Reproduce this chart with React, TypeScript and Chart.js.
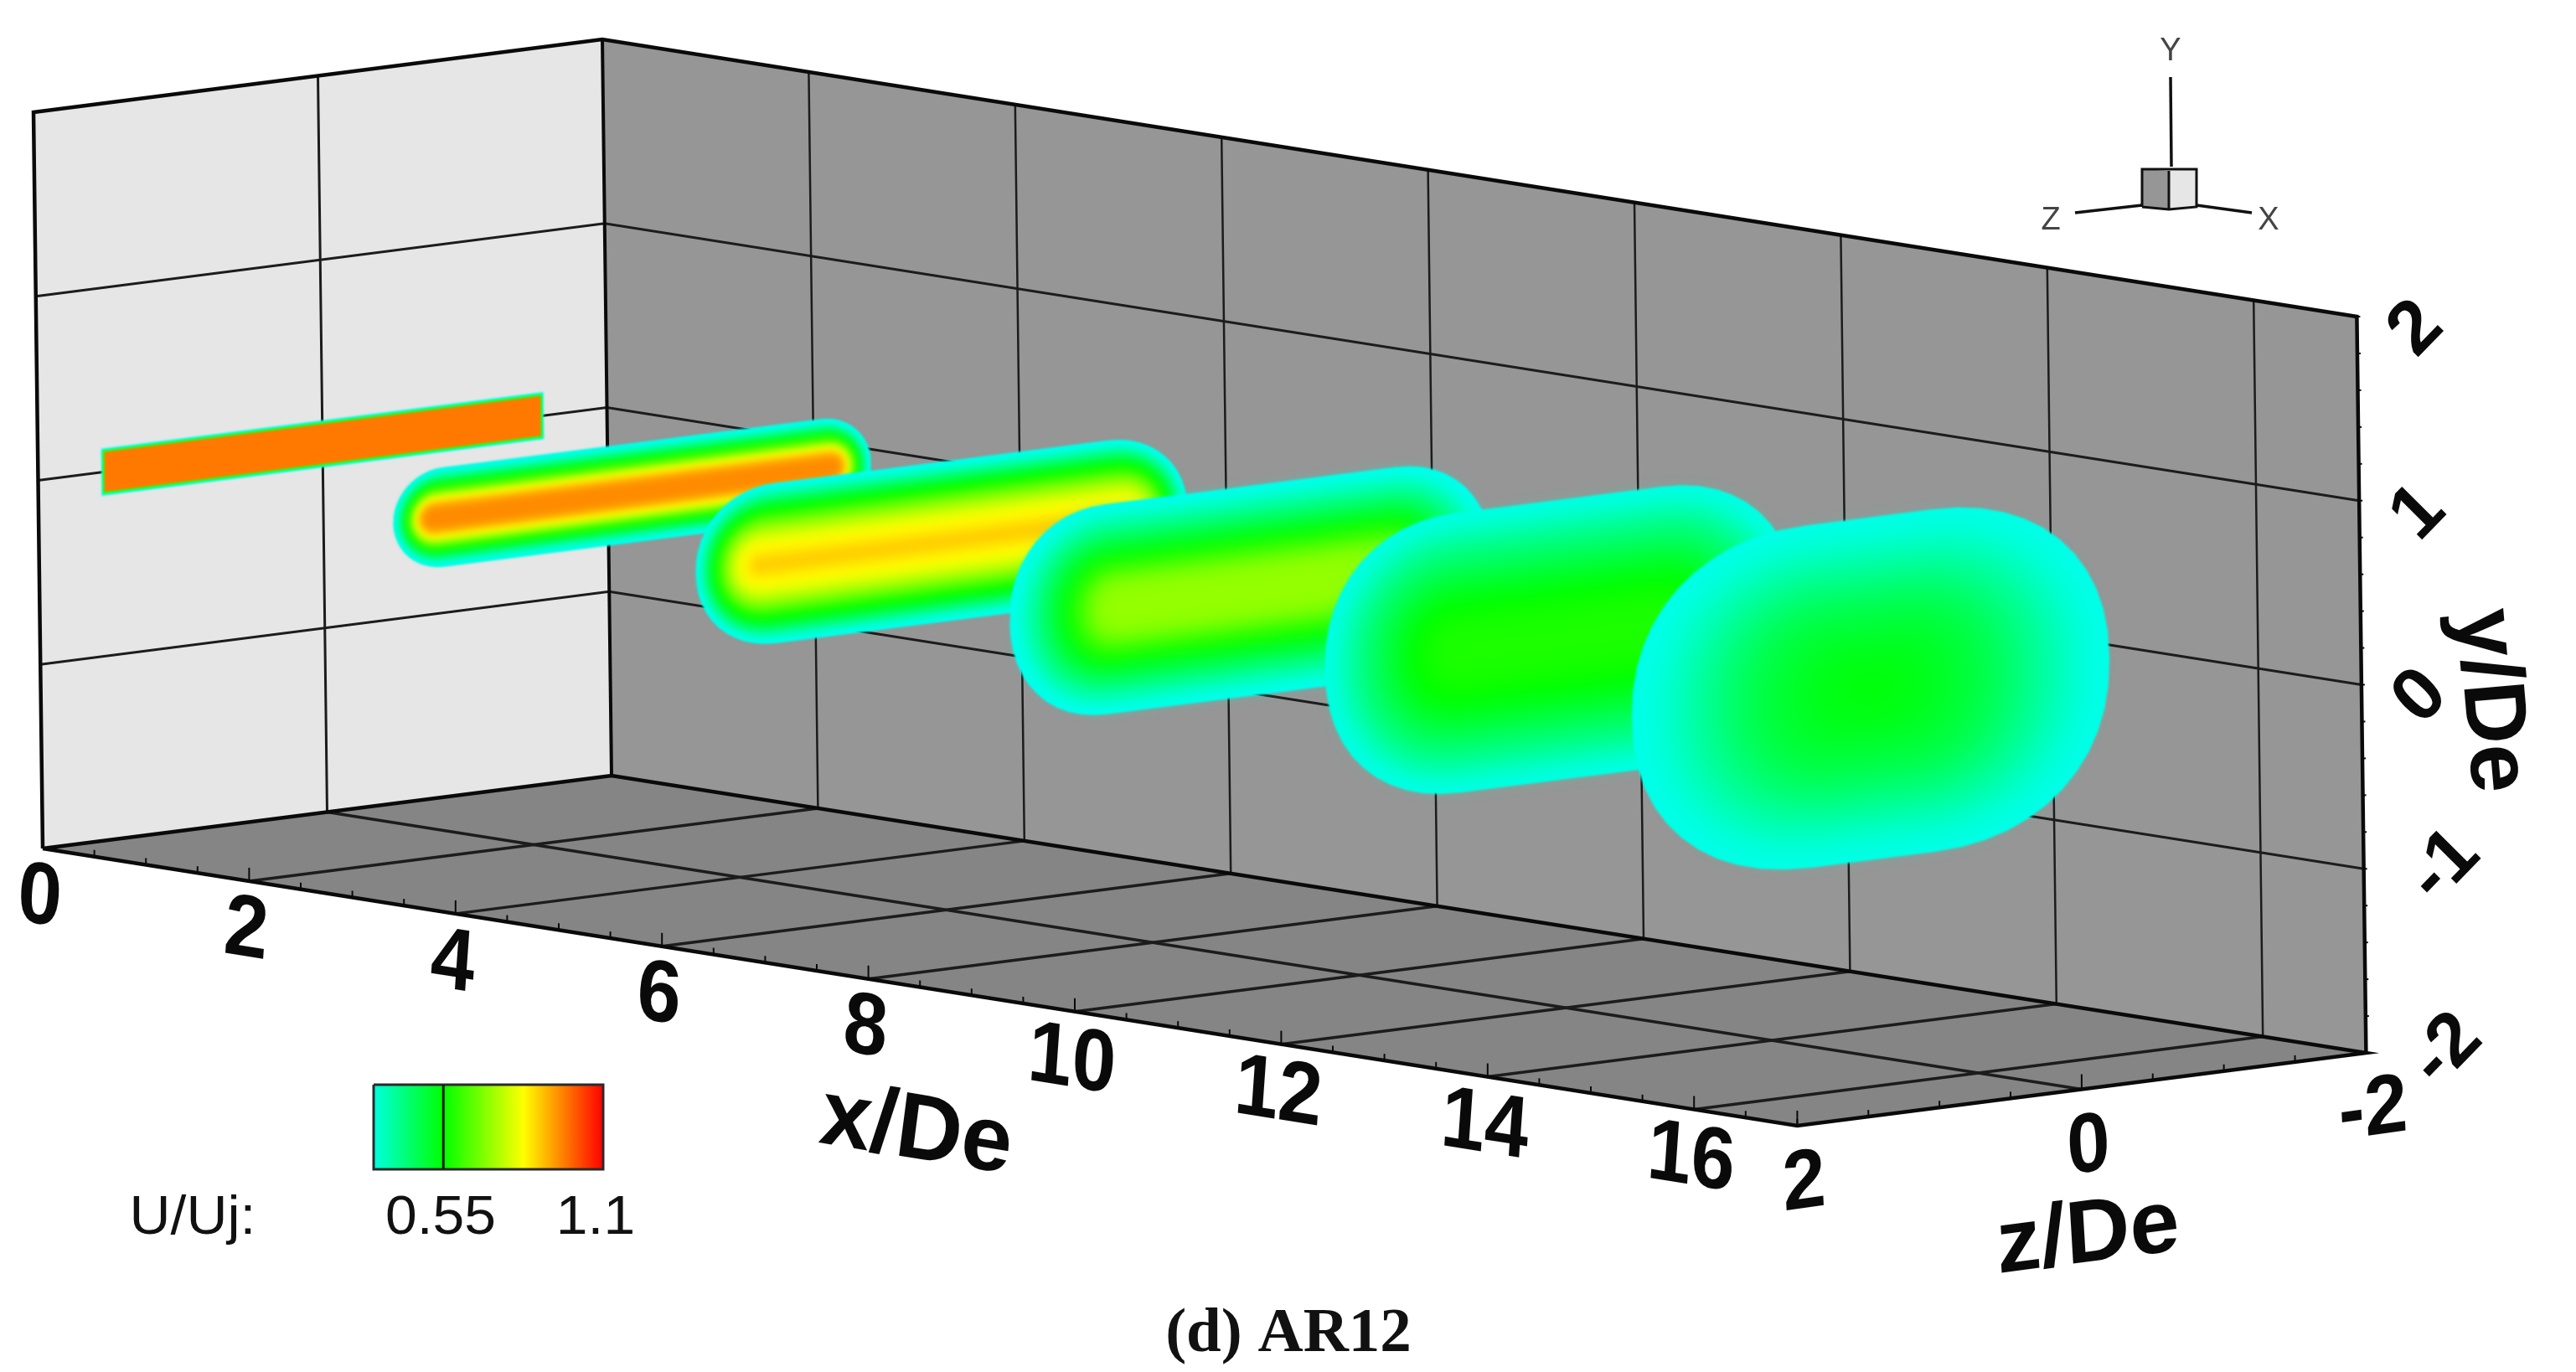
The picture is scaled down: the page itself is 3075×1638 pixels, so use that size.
import { useEffect, useRef } from "react";
import { Chart, registerables } from "chart.js";

const W = 3075;
const H = 1638;

// axis ticks
const xTicks = [0, 2, 4, 6, 8, 10, 12, 14, 16];
const yTicks = [2, 1, 0, -1, -2];
const zTicks = [2, 0, -2];
const xMax = 17;

// cross sections: station, then half width (z), half height (y) and U/Uj of each contour ring
const stations = [0, 3, 6, 9, 12, 15];
const ringZ = [
  [1.555, 1.545, 1.535],
  [1.68, 1.65, 1.62, 1.59, 1.56, 1.53, 1.5, 1.47],
  [1.73, 1.69, 1.65, 1.61, 1.57, 1.53, 1.49, 1.45, 1.41, 1.37, 1.33],
  [1.7, 1.63, 1.56, 1.49, 1.42, 1.35, 1.28, 1.21, 1.14, 1.07],
  [1.66, 1.56, 1.46, 1.36, 1.26, 1.16, 1.06, 0.96, 0.86],
  [1.68, 1.5, 1.33, 1.16, 0.99, 0.82, 0.65, 0.48, 0.31, 0.15],
];
const ringY = [
  [0.128, 0.118, 0.108],
  [0.27, 0.24, 0.21, 0.18, 0.15, 0.12, 0.09, 0.06],
  [0.435, 0.395, 0.355, 0.315, 0.275, 0.235, 0.195, 0.155, 0.115, 0.075, 0.035],
  [0.57, 0.52, 0.47, 0.42, 0.37, 0.32, 0.27, 0.22, 0.17, 0.12],
  [0.76, 0.68, 0.6, 0.52, 0.44, 0.36, 0.28, 0.2, 0.12],
  [0.93, 0.83, 0.73, 0.63, 0.53, 0.43, 0.33, 0.23, 0.15, 0.08],
];
const ringU = [
  [0.3, 0.6, 0.97],
  [0.29, 0.38, 0.5, 0.58, 0.7, 0.82, 0.9, 0.95],
  [0.29, 0.38, 0.47, 0.55, 0.62, 0.69, 0.75, 0.8, 0.83, 0.85, 0.88],
  [0.29, 0.33, 0.38, 0.43, 0.48, 0.53, 0.58, 0.63, 0.68, 0.71],
  [0.3, 0.35, 0.4, 0.44, 0.48, 0.52, 0.55, 0.57, 0.58],
  [0.3, 0.33, 0.37, 0.41, 0.45, 0.48, 0.5, 0.52, 0.53, 0.54],
];
// how far the rounded corners reach along z, as a share of the ring half height
const cornerZ = [0, 1.3, 1.3, 1.2, 1.25, 1.35];
// squareness of those corners, 2 is a plain ellipse
const cornerPower = [2, 2, 2.1, 2.15, 2.2, 2.2];
const ringBlur = [1, 4, 6, 10, 14, 16];

// colour bar
const legendStops = [0.31, 0.55, 0.825, 1.1];
const legendLabels = ["0.55", "1.1"];

// maps x/De, y/De, z/De to the picture
function project(x: number, y: number, z: number) {
  return {
    x: 730 + 123.2 * x - 169.75 * (z + 2) - 2.75 * (y + 2),
    y: 926 + 19.47 * x + 21.75 * (z + 2) - 219.75 * (y + 2),
  };
}

function colormap(u: number) {
  if (u <= 0.275) return "rgb(0,255,255)";
  if (u <= 0.55) return `rgb(0,255,${Math.round(255 * (1 - (u - 0.275) / 0.275))})`;
  if (u <= 0.825) return `rgb(${Math.round((255 * (u - 0.55)) / 0.275)},255,0)`;
  return `rgb(255,${Math.round(255 * (1 - (u - 0.825) / 0.275))},0)`;
}

const path = (data: { x: number; y: number }[], color: string, width: number) => ({
  data,
  showLine: true,
  fill: false,
  borderColor: color,
  borderWidth: width,
  pointRadius: 0,
  tension: 0,
});

const shape = (data: { x: number; y: number }[], color: any, blur = 0) => ({
  data,
  showLine: true,
  fill: "shape",
  backgroundColor: color,
  borderColor: "rgba(0,0,0,0)",
  borderWidth: 0,
  pointRadius: 0,
  tension: 0,
  blur,
});

// rounded outline of one contour ring in the plane x = station
function ringOutline(station: number, a: number, b: number, corner: number, power: number) {
  const rz = Math.min(a, b * corner);
  const ry = corner > 0 ? b : 0;
  const pts = [];
  const corners = [
    [a - rz, b - ry, 0],
    [-(a - rz), b - ry, 90],
    [-(a - rz), -(b - ry), 180],
    [a - rz, -(b - ry), 270],
  ];
  const bend = (v: number) => Math.sign(v) * Math.pow(Math.abs(v), 2 / power);
  for (const [cz, cy, start] of corners) {
    for (let k = 0; k <= 12; k++) {
      const t = ((start + k * 7.5) * Math.PI) / 180;
      pts.push(project(station, cy + ry * bend(Math.sin(t)), cz + rz * bend(Math.cos(t))));
    }
  }
  pts.push(pts[0]);
  return pts;
}

function buildDatasets(ctx: CanvasRenderingContext2D) {
  const sets: any[] = [];
  const grid = "#1c1c1c";
  const edge = "#0a0a0a";

  // walls and floor
  sets.push(shape([project(0, -2, -2), project(0, 2, -2), project(0, 2, 2), project(0, -2, 2), project(0, -2, -2)], "#e6e6e6"));
  sets.push(shape([project(0, -2, -2), project(0, 2, -2), project(xMax, 2, -2), project(xMax, -2, -2), project(0, -2, -2)], "#969696"));
  sets.push(shape([project(0, -2, -2), project(xMax, -2, -2), project(xMax, -2, 2), project(0, -2, 2), project(0, -2, -2)], "#858585"));

  // grid lines
  for (const y of yTicks.slice(1, 4)) {
    sets.push(path([project(0, y, 2), project(0, y, -2), project(xMax, y, -2)], grid, 3));
  }
  sets.push(path([project(0, -2, 0), project(0, 2, 0)], grid, 3));
  sets.push(path([project(0, -2, 0), project(xMax, -2, 0)], grid, 3.5));
  for (const x of xTicks.slice(1)) {
    sets.push(path([project(x, 2, -2), project(x, -2, -2)], grid, 2.5));
    sets.push(path([project(x, -2, -2), project(x, -2, 2)], grid, 3.5));
  }

  // box edges
  sets.push(path([project(0, -2, 2), project(0, 2, 2), project(0, 2, -2), project(xMax, 2, -2), project(xMax, -2, -2)], edge, 4.5));
  sets.push(path([project(0, 2, -2), project(0, -2, -2)], edge, 4));
  sets.push(path([project(0, -2, 2), project(0, -2, -2), project(xMax, -2, -2), project(xMax, -2, 2), project(0, -2, 2)], edge, 4.5));

  // tick marks, drawn straight up from the front edges
  const tickUp = (p: { x: number; y: number }, len: number) => [p, { x: p.x, y: p.y - len }];
  for (let x = 0; x <= xMax; x += 0.5) {
    sets.push(path(tickUp(project(x, -2, 2), x % 2 === 0 ? 16 : 8), edge, 2));
  }
  for (let z = -2; z <= 2; z += 0.5) {
    sets.push(path(tickUp(project(xMax, -2, z), z % 2 === 0 ? 18 : 8), edge, 2));
  }
  for (let y = -2; y <= 2; y += 0.2) {
    const p = project(xMax, y, -2);
    sets.push(path([p, { x: p.x + 4, y: p.y }], edge, 2));
  }

  // jet cross sections, far to near
  stations.forEach((station, i) => {
    ringZ[i].forEach((a, j) => {
      const outline = ringOutline(station, a, ringY[i][j], cornerZ[i], cornerPower[i]);
      sets.push(shape(outline, colormap(ringU[i][j]), j === 0 ? 1 : ringBlur[i]));
    });
  });

  // colour bar
  const barX = (u: number) => 446 + ((u - legendStops[0]) / (legendStops[3] - legendStops[0])) * 274;
  const barTop = 1295;
  const barBottom = 1396;
  const gradient = ctx.createLinearGradient(barX(legendStops[0]), 0, barX(legendStops[3]), 0);
  legendStops.forEach((u) => {
    gradient.addColorStop((u - legendStops[0]) / (legendStops[3] - legendStops[0]), colormap(u));
  });
  const bar = [
    { x: 446, y: barTop },
    { x: 720, y: barTop },
    { x: 720, y: barBottom },
    { x: 446, y: barBottom },
    { x: 446, y: barTop },
  ];
  sets.push(shape(bar, gradient));
  sets.push(path(bar, "#2a2a2a", 3));
  sets.push(path([{ x: barX(0.55), y: barTop }, { x: barX(0.55), y: barBottom }], "#1a1a1a", 3));

  // orientation triad
  sets.push(shape([{ x: 2557, y: 202 }, { x: 2589, y: 204 }, { x: 2589, y: 250 }, { x: 2557, y: 247 }, { x: 2557, y: 202 }], "#969696"));
  sets.push(shape([{ x: 2589, y: 204 }, { x: 2622, y: 202 }, { x: 2622, y: 247 }, { x: 2589, y: 250 }, { x: 2589, y: 204 }], "#e6e6e6"));
  sets.push(path([{ x: 2557, y: 247 }, { x: 2557, y: 202 }, { x: 2622, y: 202 }, { x: 2622, y: 247 }, { x: 2589, y: 250 }, { x: 2557, y: 247 }], "#111111", 3));
  sets.push(path([{ x: 2589, y: 204 }, { x: 2589, y: 250 }], "#111111", 3));
  sets.push(path([{ x: 2591, y: 92 }, { x: 2592, y: 199 }], "#111111", 3.5));
  sets.push(path([{ x: 2477, y: 254 }, { x: 2557, y: 245 }], "#111111", 3.5));
  sets.push(path([{ x: 2622, y: 245 }, { x: 2688, y: 254 }], "#111111", 3.5));

  // chart.js paints higher order first
  sets.forEach((s, i) => {
    s.order = sets.length - i;
  });
  return sets;
}

// has to sit before the filler, so it is registered first
const blurPlugin = {
  id: "ringBlur",
  beforeDatasetDraw(chart: any, args: any) {
    const blur = chart.data.datasets[args.index].blur;
    chart.ctx.filter = blur ? `blur(${blur}px)` : "none";
  },
  afterDatasetDraw(chart: any) {
    chart.ctx.filter = "none";
  },
};

type Skew = [number, number, number, number];

function label(
  chart: any,
  text: string,
  px: number,
  py: number,
  font: string,
  size: number,
  m: Skew,
  color = "#0a0a0a",
  align: CanvasTextAlign = "center"
) {
  const ctx = chart.ctx;
  const sx = chart.scales.x.getPixelForValue(px);
  const sy = chart.scales.y.getPixelForValue(py);
  ctx.save();
  ctx.transform(m[0], m[1], m[2], m[3], sx, sy);
  ctx.font = font;
  ctx.fillStyle = color;
  ctx.textAlign = align;
  ctx.textBaseline = "alphabetic";
  ctx.fillText(text, 0, size * 0.358);
  ctx.restore();
}

const textPlugin = {
  id: "plotText",
  afterDraw(chart: any) {
    const bold = (s: number) => `bold ${s}px "Liberation Sans"`;
    const plain = (s: number) => `${s}px "Liberation Sans"`;

    const xSkew: Skew = [0.9, 0.145, -0.07, 1];
    xTicks.forEach((x) => {
      const p = project(x, -2, 2);
      label(chart, String(x), p.x - 3, p.y + 52, bold(104), 104, xSkew);
    });
    label(chart, "x/De", 1095, 1343, bold(110), 110, [0.98, 0.16, -0.13, 1]);

    yTicks.forEach((y) => {
      const p = project(xMax, y, -2);
      const off = y < 0 ? { x: 91, y: -8 } : { x: 66, y: 10 };
      label(chart, String(y), p.x + off.x, p.y + off.y, bold(90), 90, [0.7, -0.72, 0.7, 0.7]);
    });
    label(chart, "y/De", 2980, 836, bold(104), 104, [0.087, 0.996, -0.996, 0.087]);

    zTicks.forEach((z) => {
      const p = project(xMax, -2, z);
      label(chart, String(z), p.x + 8, p.y + 62, bold(100), 100, [0.92, -0.13, 0.05, 1]);
    });
    label(chart, "z/De", 2492, 1468, bold(106), 106, [1, -0.13, 0.06, 1]);

    const legendSkew: Skew = [1.06, 0, 0, 1];
    label(chart, "U/Uj:", 230, 1450, plain(64), 64, legendSkew, "#111111");
    label(chart, legendLabels[0], 526, 1450, plain(64), 64, legendSkew, "#111111");
    label(chart, legendLabels[1], 711, 1450, plain(64), 64, legendSkew, "#111111");

    label(chart, "Y", 2591, 58, plain(38), 38, [1, 0, 0, 1], "#444444");
    label(chart, "Z", 2448, 260, plain(38), 38, [1, 0, 0, 1], "#444444");
    label(chart, "X", 2708, 260, plain(38), 38, [1, 0, 0, 1], "#444444");

    label(chart, "(d) AR12", 1538, 1592, 'bold 75px "Liberation Serif"', 60, [1, 0, 0, 1], "#111111");
  },
};

Chart.register(blurPlugin);
Chart.register(...registerables);

const App = () => {
  const chartRef = useRef<HTMLCanvasElement | null>(null);

  useEffect(() => {
    if (chartRef.current) {
      const chart = new Chart(chartRef.current, {
        type: "scatter",
        data: { datasets: buildDatasets(chartRef.current.getContext("2d")!) },
        options: {
          responsive: false,
          animation: false,
          devicePixelRatio: 1,
          events: [],
          layout: { padding: 0 },
          plugins: { legend: { display: false }, tooltip: { enabled: false } },
          scales: {
            x: { type: "linear", min: 0, max: W, display: false },
            y: { type: "linear", min: 0, max: H, reverse: true, display: false },
          },
        },
        plugins: [textPlugin],
      } as any);

      return () => {
        chart.destroy();
      };
    }
  }, []);

  return (
    <div style={{ position: "absolute", left: 0, top: 0, width: W, height: H, background: "#ffffff" }}>
      <canvas ref={chartRef} width={W} height={H} style={{ display: "block" }} />
    </div>
  );
};

export default App;
